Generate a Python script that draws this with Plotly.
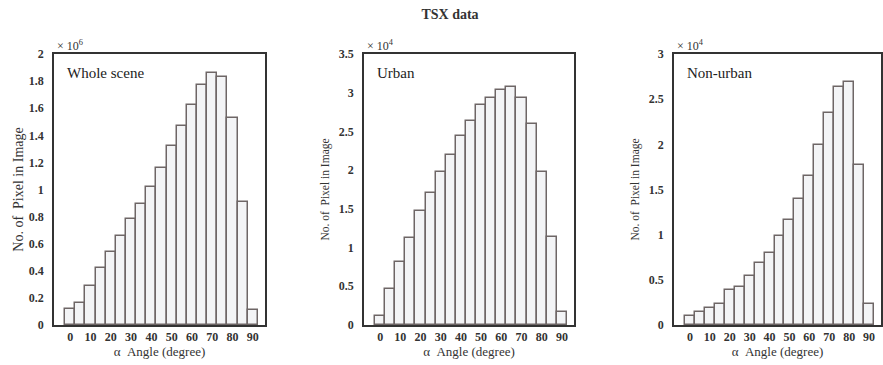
import plotly.graph_objects as go

angles = [0, 5, 10, 15, 20, 25, 30, 35, 40, 45, 50, 55, 60, 65, 70, 75, 80, 85, 90]
whole = [0.12, 0.16, 0.29, 0.42, 0.54, 0.66, 0.78, 0.89, 1.02, 1.16, 1.32, 1.47, 1.62, 1.77, 1.86, 1.83, 1.53, 0.91, 0.11]
urban = [0.11, 0.46, 0.82, 1.13, 1.47, 1.70, 1.97, 2.20, 2.44, 2.63, 2.84, 2.93, 3.03, 3.07, 2.93, 2.59, 1.97, 1.14, 0.17]
nonurban = [0.10, 0.14, 0.19, 0.23, 0.39, 0.42, 0.54, 0.69, 0.80, 0.98, 1.16, 1.39, 1.65, 1.99, 2.35, 2.64, 2.69, 1.77, 0.23]
panels = ["Whole scene", "Urban", "Non-urban"]
exps = ["6", "4", "4"]
yticks = [
    [0, 0.2, 0.4, 0.6, 0.8, 1, 1.2, 1.4, 1.6, 1.8, 2],
    [0, 0.5, 1, 1.5, 2, 2.5, 3, 3.5],
    [0, 0.5, 1, 1.5, 2, 2.5, 3],
]
yranges = [[0, 2], [0, 3.5], [0, 3]]
xticks = [0, 10, 20, 30, 40, 50, 60, 70, 80, 90]

W, H = 883, 365
xdom_px = [(54, 265), (364, 574), (674, 881)]
ytop, ybot = 54, 325
ydom = [(H - ybot) / H, (H - ytop) / H]

serif = "Liberation Serif, Times New Roman, serif"
fig = go.Figure()
series = [whole, urban, nonurban]
for i, vals in enumerate(series):
    n = "" if i == 0 else str(i + 1)
    fig.add_trace(go.Bar(
        x=angles, y=vals, width=5,
        marker=dict(color="#f3f4f6", line=dict(color="#6e6666", width=1.5)),
        xaxis="x" + n, yaxis="y" + n, showlegend=False, hoverinfo="x+y",
    ))
    d = xdom_px[i]
    fig.layout["xaxis" + n] = dict(
        domain=[d[0] / W, d[1] / W], range=[-8, 96], anchor="y" + n,
        tickvals=xticks, ticktext=["<b>%d</b>" % v for v in xticks],
        ticks="", showgrid=False, zeroline=False, automargin=False,
        showline=True, mirror=True, linecolor="#333333", linewidth=1.8,
        tickfont=dict(family=serif, size=12, color="#333333"),
        title=dict(text="α  Angle (degree)", font=dict(family=serif, size=13, color="#333333"), standoff=4),
    )
    fig.layout["yaxis" + n] = dict(
        domain=ydom, range=yranges[i], anchor="x" + n,
        tickvals=yticks[i], ticktext=[("<b>%g</b>" % v) for v in yticks[i]],
        ticks="outside", ticklen=6, tickcolor="rgba(0,0,0,0)",
        showgrid=False, zeroline=False, automargin=False,
        showline=True, mirror=True, linecolor="#333333", linewidth=1.8,
        tickfont=dict(family=serif, size=12, color="#333333"),
        title=dict(text="No. of  Pixel in Image",
                   font=dict(family=serif, size=14 if i == 0 else 11.5, color="#333333"),
                   standoff=2 if i == 0 else 7),
    )
    fig.add_annotation(x=d[0] / W, y=ydom[1], xref="paper", yref="paper",
                       text="× 10<sup>%s</sup>" % exps[i], showarrow=False,
                       xanchor="left", yanchor="bottom", yshift=-1, xshift=1,
                       font=dict(family=serif, size=12, color="#333333"))
    fig.add_annotation(x=d[0] / W, y=ydom[1], xref="paper", yref="paper",
                       text=panels[i], showarrow=False, xanchor="left", yanchor="top",
                       xshift=11, yshift=-9,
                       font=dict(family=serif, size=15, color="#222222"))

fig.update_layout(
    width=W, height=H, margin=dict(l=0, r=0, t=0, b=0, autoexpand=False),
    paper_bgcolor="white", plot_bgcolor="white", bargap=0,
    title=dict(text="<b>TSX data</b>", x=450 / W, xanchor="center", y=1 - 14 / H, yanchor="middle",
               font=dict(family=serif, size=14, color="#333333")),
)
fig.write_html("out.html", config={"displayModeBar": False},
               post_script="document.body.style.margin='0';document.body.style.overflow='hidden';")
